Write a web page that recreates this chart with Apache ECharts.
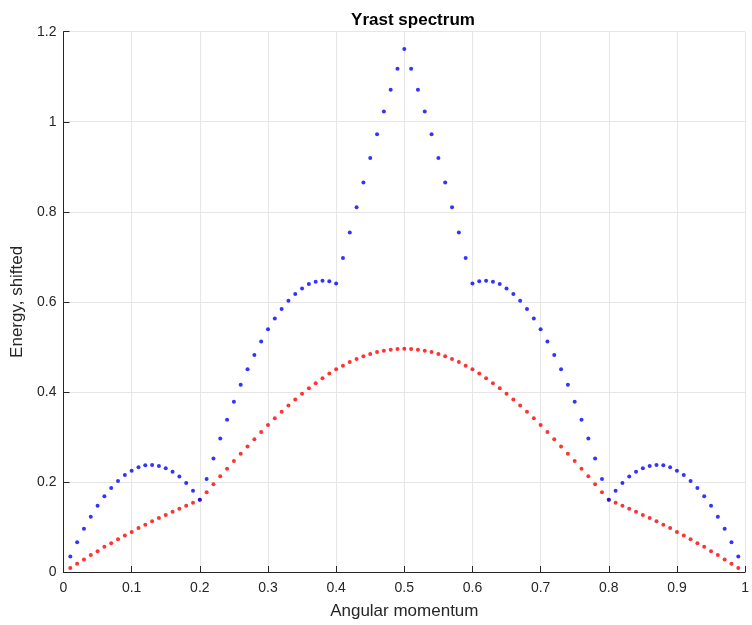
<!DOCTYPE html>
<html>
<head>
<meta charset="utf-8">
<script src="https://cdn.jsdelivr.net/npm/echarts@6/dist/echarts.min.js"></script>
<style>
html,body{margin:0;padding:0;background:#fff;}
#chart{width:752px;height:625px;}
</style>
</head>
<body>
<div id="chart"></div>
<script>
// Angular momentum values (x)
const angularMomentum = [
0.01,0.02,0.03,0.04,0.05,0.06,0.07,0.08,0.09,0.10,
0.11,0.12,0.13,0.14,0.15,0.16,0.17,0.18,0.19,0.20,
0.21,0.22,0.23,0.24,0.25,0.26,0.27,0.28,0.29,0.30,
0.31,0.32,0.33,0.34,0.35,0.36,0.37,0.38,0.39,0.40,
0.41,0.42,0.43,0.44,0.45,0.46,0.47,0.48,0.49,0.50,
0.51,0.52,0.53,0.54,0.55,0.56,0.57,0.58,0.59,0.60,
0.61,0.62,0.63,0.64,0.65,0.66,0.67,0.68,0.69,0.70,
0.71,0.72,0.73,0.74,0.75,0.76,0.77,0.78,0.79,0.80,
0.81,0.82,0.83,0.84,0.85,0.86,0.87,0.88,0.89,0.90,
0.91,0.92,0.93,0.94,0.95,0.96,0.97,0.98,0.99];

// Upper (blue) branch energies
const blueEnergy = [
0.0345,0.0662,0.0963,0.1228,0.1471,0.1684,0.1868,0.2023,0.2155,0.2251,
0.2325,0.2369,0.2376,0.2354,0.2302,0.2229,0.2119,0.1979,0.1802,0.1603,
0.2067,0.2523,0.2965,0.3384,0.3781,0.4157,0.4503,0.4819,0.5121,0.5393,
0.5629,0.5842,0.6026,0.6173,0.6298,0.6394,0.6445,0.6467,0.6460,0.6409,
0.6975,0.7542,0.8101,0.8653,0.9197,0.9720,1.0227,1.0713,1.1177,1.1618,
1.1177,1.0713,1.0227,0.9720,0.9197,0.8653,0.8101,0.7542,0.6975,0.6409,
0.6460,0.6467,0.6445,0.6394,0.6298,0.6173,0.6026,0.5842,0.5629,0.5393,
0.5121,0.4819,0.4503,0.4157,0.3781,0.3384,0.2965,0.2523,0.2067,0.1603,
0.1802,0.1979,0.2119,0.2229,0.2302,0.2354,0.2376,0.2369,0.2325,0.2251,
0.2155,0.2023,0.1868,0.1684,0.1471,0.1228,0.0963,0.0662,0.0345];

// Yrast (red) line energies
const redEnergy = [
0.0088,0.0183,0.0279,0.0375,0.0463,0.0559,0.0640,0.0728,0.0809,0.0890,
0.0978,0.1051,0.1125,0.1199,0.1265,0.1338,0.1405,0.1471,0.1537,0.1603,
0.1773,0.1949,0.2126,0.2295,0.2464,0.2626,0.2788,0.2950,0.3112,0.3266,
0.3413,0.3561,0.3700,0.3833,0.3958,0.4083,0.4194,0.4304,0.4407,0.4503,
0.4583,0.4664,0.4731,0.4790,0.4841,0.4885,0.4915,0.4937,0.4951,0.4959,
0.4951,0.4937,0.4915,0.4885,0.4841,0.4790,0.4731,0.4664,0.4583,0.4503,
0.4407,0.4304,0.4194,0.4083,0.3958,0.3833,0.3700,0.3561,0.3413,0.3266,
0.3112,0.2950,0.2788,0.2626,0.2464,0.2295,0.2126,0.1949,0.1773,0.1603,
0.1537,0.1471,0.1405,0.1338,0.1265,0.1199,0.1125,0.1051,0.0978,0.0890,
0.0809,0.0728,0.0640,0.0559,0.0463,0.0375,0.0279,0.0183,0.0088];

const titleText = 'Yrast spectrum';
const xName = 'Angular momentum';
const yName = 'Energy, shifted';

const pair = (xs, ys) => xs.map((x, i) => [x, ys[i]]);
const FONT = '"Liberation Sans", Arial, Helvetica, sans-serif';
const TXT = '#262626';

const chart = echarts.init(document.getElementById('chart'), null, {renderer: 'canvas'});
chart.setOption({
  animation: false,
  backgroundColor: '#ffffff',
  title: {
    text: titleText,
    left: 408, top: 7, textAlign: 'center',
    textStyle: {fontFamily: FONT, fontSize: 17, fontWeight: 'bold', color: '#000'}
  },
  grid: {left: 63.5, right: 0, top: 31.7, bottom: 49.7, containLabel: false},
  xAxis: {
    type: 'value', min: 0, max: 1, interval: 0.1,
    name: xName, nameLocation: 'middle', nameGap: 31,
    nameTextStyle: {fontFamily: FONT, fontSize: 17, color: TXT},
    axisLine: {show: true, lineStyle: {color: '#262626', width: 1}},
    axisTick: {show: true, inside: true, length: 6, lineStyle: {color: '#262626'}},
    axisLabel: {fontFamily: FONT, fontSize: 14, color: TXT, margin: 9},
    splitLine: {show: true, lineStyle: {color: '#e6e6e6', width: 1}}
  },
  yAxis: {
    type: 'value', min: 0, max: 1.2, interval: 0.2,
    name: yName, nameLocation: 'middle', nameGap: 35,
    nameTextStyle: {fontFamily: FONT, fontSize: 17, color: TXT},
    axisLine: {show: true, lineStyle: {color: '#262626', width: 1}},
    axisTick: {show: true, inside: true, length: 6, lineStyle: {color: '#262626'}},
    axisLabel: {fontFamily: FONT, fontSize: 14, color: TXT, margin: 7},
    splitLine: {show: true, lineStyle: {color: '#e6e6e6', width: 1}}
  },
  series: [
    {type: 'scatter', data: pair(angularMomentum, redEnergy), symbol: 'circle', symbolSize: 4,
     itemStyle: {color: '#ff0000'}, silent: true},
    {type: 'scatter', data: pair(angularMomentum, blueEnergy), symbol: 'circle', symbolSize: 4,
     itemStyle: {color: '#0000ff'}, silent: true}
  ]
});
</script>
</body>
</html>
